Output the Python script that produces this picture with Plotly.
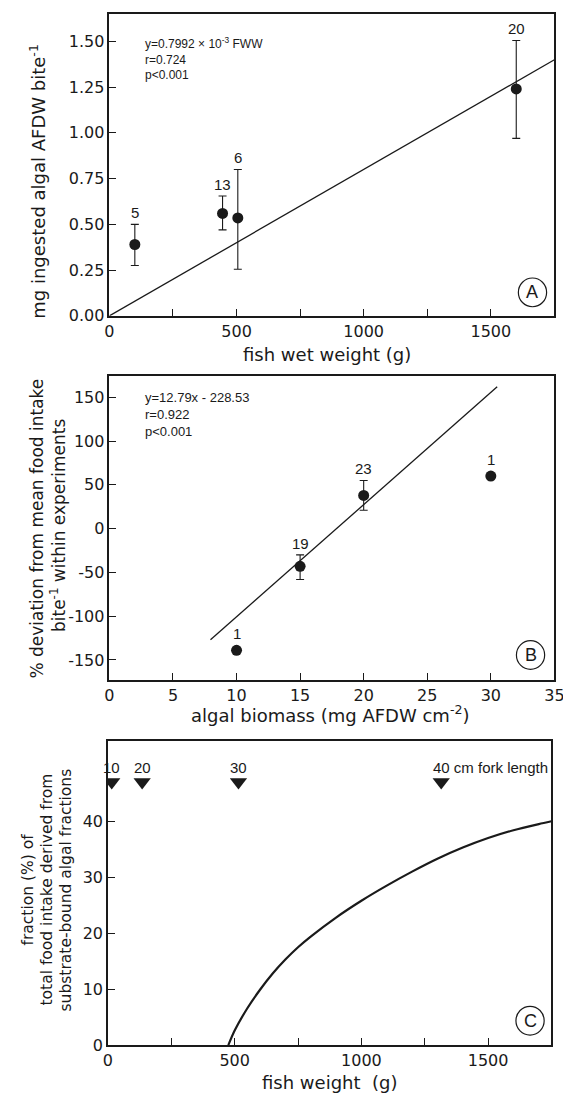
import plotly.graph_objects as go

# ---------------- data ----------------
# Panel A
fish_wet_weight_g = [100, 445, 505, 1600]
algal_afdw_per_bite = [0.39, 0.56, 0.535, 1.24]
algal_afdw_upper = [0.50, 0.655, 0.80, 1.505]
algal_afdw_lower = [0.275, 0.47, 0.255, 0.97]
n_labels_A = ["5", "13", "6", "20"]
fit_A_x = [0, 1750]
fit_A_y = [0.0, 1.40]
regression_A = ["y=0.7992 \u00d7 10<sup>-3</sup> FWW", "r=0.724", "p<0.001"]

# Panel B
algal_biomass = [10, 15, 20, 30]
pct_deviation = [-139, -43, 38, 60]
pct_dev_upper = [-139, -30, 55, 60]
pct_dev_lower = [-139, -58, 21, 60]
n_labels_B = ["1", "19", "23", "1"]
fit_B_x = [7.95, 30.5]
fit_B_y = [-127, 162]
regression_B = ["y=12.79x - 228.53", "r=0.922", "p<0.001"]

# Panel C
fish_weight_g = [475, 500, 550, 600, 650, 700, 750, 800, 900, 1000, 1100, 1200,
                 1300, 1400, 1500, 1600, 1700, 1750]
substrate_fraction_pct = [0.0, 2.6, 6.6, 9.9, 12.8, 15.3, 17.5, 19.4, 22.8, 25.8, 28.5,
                          31.0, 33.3, 35.3, 37.0, 38.4, 39.5, 40.0]
fork_length_labels = ["10", "20", "30", "40"]
fork_length_weight_g = [15, 135, 515, 1315]
fork_marker_level = [47, 47, 47, 47]

# ticks
weight_tickvals = [0, 500, 1000, 1500]
weight_ticktext = ["0", "500", "1000", "1500"]
weight_minor_ticks = [250, 750, 1250]
afdw_tickvals = [0, 0.25, 0.5, 0.75, 1.0, 1.25, 1.5]
afdw_ticktext = ["0.00", "0.25", "0.50", "0.75", "1.00", "1.25", "1.50"]
biomass_tickvals = [0, 5, 10, 15, 20, 25, 30, 35]
biomass_ticktext = ["0", "5", "10", "15", "20", "25", "30", "35"]
dev_tickvals = [-150, -100, -50, 0, 50, 100, 150]
dev_ticktext = ["-150", "-100", "-50", "0", "50", "100", "150"]
frac_tickvals = [0, 10, 20, 30, 40]
frac_ticktext = ["0", "10", "20", "30", "40"]

# ---------------- layout helpers ----------------
W, H = 571, 1096
INK = "#1a1a1a"
TICKFONT = dict(family="DejaVu Sans", size=16, color=INK)
TITLEFONT = dict(family="DejaVu Sans", size=18, color=INK)
SMALLFONT = dict(family="Liberation Sans", size=12, color=INK)
NFONT = dict(family="Liberation Sans", size=15, color=INK)


def px_x(p):
    return p / W


def px_y(p):
    return 1 - p / H


def axis(domain, rng, tickvals, ticktext, anchor, minor_vals=None):
    d = dict(
        domain=domain, range=rng, anchor=anchor,
        tickmode="array", tickvals=tickvals, ticktext=ticktext,
        ticks="inside", ticklen=7, tickwidth=1.2, tickcolor=INK,
        showline=True, linecolor=INK, linewidth=1.5, mirror=True,
        showgrid=False, zeroline=False, tickfont=TICKFONT,
    )
    if minor_vals:
        d["minor"] = dict(tickmode="array", tickvals=minor_vals, ticks="inside",
                          ticklen=7, tickwidth=1.2, tickcolor=INK, showgrid=False)
    return d


fig = go.Figure()

# Panel A
fig.add_trace(go.Scatter(
    x=fit_A_x, y=fit_A_y, mode="lines",
    line=dict(color=INK, width=1.3), xaxis="x", yaxis="y", showlegend=False))
fig.add_trace(go.Scatter(
    x=fish_wet_weight_g, y=algal_afdw_per_bite, mode="markers",
    marker=dict(color=INK, size=11),
    error_y=dict(type="data", symmetric=False,
                 array=[u - v for u, v in zip(algal_afdw_upper, algal_afdw_per_bite)],
                 arrayminus=[v - l for v, l in zip(algal_afdw_per_bite, algal_afdw_lower)],
                 color=INK, thickness=1.1, width=4),
    xaxis="x", yaxis="y", showlegend=False))

# Panel B
fig.add_trace(go.Scatter(
    x=fit_B_x, y=fit_B_y, mode="lines",
    line=dict(color=INK, width=1.3), xaxis="x2", yaxis="y2", showlegend=False))
fig.add_trace(go.Scatter(
    x=algal_biomass, y=pct_deviation, mode="markers",
    marker=dict(color=INK, size=11),
    error_y=dict(type="data", symmetric=False,
                 array=[u - v for u, v in zip(pct_dev_upper, pct_deviation)],
                 arrayminus=[v - l for v, l in zip(pct_deviation, pct_dev_lower)],
                 color=INK, thickness=1.1, width=4),
    xaxis="x2", yaxis="y2", showlegend=False))

# Panel C
fig.add_trace(go.Scatter(
    x=fish_weight_g, y=substrate_fraction_pct, mode="lines",
    line=dict(color=INK, width=2.2, shape="spline", smoothing=0.7),
    xaxis="x3", yaxis="y3", showlegend=False))
fig.add_trace(go.Scatter(
    x=fork_length_weight_g, y=fork_marker_level, mode="markers",
    marker=dict(color=INK, size=15, symbol="triangle-down"),
    xaxis="x3", yaxis="y3", showlegend=False))

annotations = []

# n labels
for x, u, t in zip(fish_wet_weight_g, algal_afdw_upper, n_labels_A):
    annotations.append(dict(x=x, y=u, xref="x", yref="y", text=t, showarrow=False,
                            yanchor="bottom", yshift=1, font=NFONT))
for x, u, v, t in zip(algal_biomass, pct_dev_upper, pct_deviation, n_labels_B):
    annotations.append(dict(x=x, y=u, xref="x2", yref="y2", text=t, showarrow=False,
                            yanchor="bottom", yshift=6 if u == v else 1, font=NFONT))

# fork-length labels
for x, lvl, t in zip(fork_length_weight_g, fork_marker_level, fork_length_labels):
    if t == fork_length_labels[-1]:
        annotations.append(dict(x=x, y=lvl, xref="x3", yref="y3",
                                text=t + " cm fork length", showarrow=False,
                                xanchor="left", xshift=-10, yshift=15, font=NFONT))
    else:
        annotations.append(dict(x=x, y=lvl, xref="x3", yref="y3", text=t,
                                showarrow=False, yshift=15, font=NFONT))

# regression text
annotations.append(dict(x=px_x(133), y=px_y(25), xref="paper", yref="paper",
                        xanchor="left", yanchor="top", align="left", showarrow=False,
                        text="<br>".join(regression_A), font=SMALLFONT))
annotations.append(dict(x=px_x(133), y=px_y(383), xref="paper", yref="paper",
                        xanchor="left", yanchor="top", align="left", showarrow=False,
                        text="<br>".join(regression_B),
                        font=dict(family="Liberation Sans", size=13, color=INK)))


# axis titles
def xtitle(text, cx, cy):
    annotations.append(dict(x=px_x(cx), y=px_y(cy), xref="paper", yref="paper",
                            text=text, showarrow=False, xanchor="center",
                            yanchor="middle", font=TITLEFONT))


def ytitle(text, cx, cy, size=18):
    annotations.append(dict(x=px_x(cx), y=px_y(cy), xref="paper", yref="paper",
                            text=text, showarrow=False, xanchor="center",
                            yanchor="middle", textangle=-90,
                            font=dict(family="DejaVu Sans", size=size, color=INK)))


xtitle("fish wet weight (g)", 322, 350)
xtitle("algal biomass (mg AFDW cm<sup>-2</sup>)", 326, 712)
xtitle("fish weight  (g)", 325, 1084)
ytitle("mg ingested algal AFDW bite<sup>-1</sup>", 26, 175)
ytitle("% deviation from mean food intake", 25, 525, 17)
ytitle("bite<sup>-1</sup> within experiments", 46, 522, 17)
ytitle("fraction (%) of", 15, 890, 15.5)
ytitle("total food intake derived from", 34.5, 890, 15.5)
ytitle("substrate-bound algal fractions", 54, 890, 15.5)

# circled panel letters
shapes = []
for letter, cx, cy in [("A", 533.5, 287), ("B", 531.5, 653), ("C", 531, 1022)]:
    r = 14.5
    shapes.append(dict(type="circle", xref="paper", yref="paper",
                       x0=px_x(cx - r), x1=px_x(cx + r), y0=px_y(cy + r), y1=px_y(cy - r),
                       line=dict(color=INK, width=1.2)))
    annotations.append(dict(x=px_x(cx), y=px_y(cy), xref="paper", yref="paper",
                            text=letter, showarrow=False, xanchor="center",
                            yanchor="middle",
                            font=dict(family="Liberation Sans", size=18, color=INK)))

fig.update_layout(
    width=W, height=H,
    margin=dict(l=0, r=0, t=0, b=0),
    paper_bgcolor="white", plot_bgcolor="white",
    xaxis=axis([px_x(99), px_x(556)], [0, 1750], weight_tickvals, weight_ticktext, "y",
               weight_minor_ticks),
    yaxis=axis([px_y(310.7), px_y(6)], [0, 1.65], afdw_tickvals, afdw_ticktext, "x"),
    xaxis2=axis([px_x(99), px_x(556)], [0, 35], biomass_tickvals, biomass_ticktext, "y2"),
    yaxis2=axis([px_y(678.3), px_y(371.7)], [-173, 174], dev_tickvals, dev_ticktext, "x2"),
    xaxis3=axis([px_x(97.5), px_x(553)], [0, 1750], weight_tickvals, weight_ticktext, "y3",
                weight_minor_ticks),
    yaxis3=axis([px_y(1046.7), px_y(740)], [0, 54.3], frac_tickvals, frac_ticktext, "x3"),
    annotations=annotations,
    shapes=shapes,
)

fig.write_html("out.html")
